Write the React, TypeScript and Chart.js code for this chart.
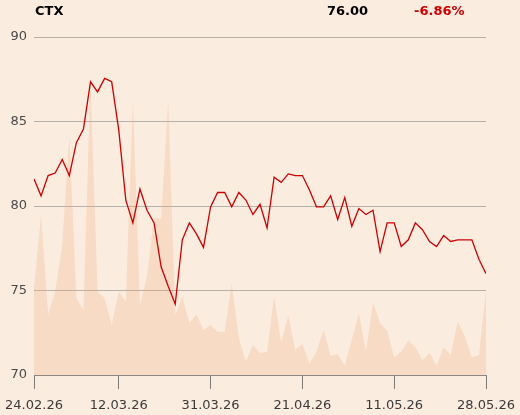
import React, { useEffect, useRef } from "react";
import { Chart, registerables } from "chart.js";

Chart.register(...registerables);

const ticker = "CTX";
const lastPrice = "76.00";
const changePct = "-6.86%";

const dates = [
  "24.02.26", "25.02.26", "26.02.26", "27.02.26", "02.03.26", "03.03.26", "04.03.26", "05.03.26",
  "06.03.26", "09.03.26", "10.03.26", "11.03.26", "12.03.26", "13.03.26", "16.03.26", "17.03.26",
  "18.03.26", "19.03.26", "20.03.26", "23.03.26", "24.03.26", "25.03.26", "26.03.26", "27.03.26",
  "30.03.26", "31.03.26", "01.04.26", "02.04.26", "07.04.26", "08.04.26", "09.04.26", "10.04.26",
  "13.04.26", "14.04.26", "15.04.26", "16.04.26", "17.04.26", "20.04.26", "21.04.26", "22.04.26",
  "23.04.26", "24.04.26", "27.04.26", "28.04.26", "29.04.26", "30.04.26", "04.05.26", "05.05.26",
  "06.05.26", "07.05.26", "08.05.26", "11.05.26", "12.05.26", "13.05.26", "14.05.26", "15.05.26",
  "18.05.26", "19.05.26", "20.05.26", "21.05.26", "22.05.26", "25.05.26", "26.05.26", "27.05.26",
  "28.05.26",
];

const prices = [
  81.6, 80.6, 81.8, 81.95, 82.75, 81.8, 83.75, 84.55, 87.35, 86.75, 87.55, 87.35, 84.5,
  80.35, 79.0, 81.0, 79.75, 79.0, 76.4, 75.25, 74.2, 78.0, 79.0, 78.35, 77.55, 79.95,
  80.8, 80.8, 79.95, 80.8, 80.35, 79.5, 80.1, 78.7, 81.7, 81.4, 81.9, 81.8, 81.8,
  80.95, 79.95, 79.95, 80.6, 79.2, 80.5, 78.8, 79.85, 79.5, 79.75, 77.3, 79.0, 79.0,
  77.6, 78.0, 79.0, 78.6, 77.9, 77.6, 78.25, 77.9, 78.0, 78.0, 78.0, 76.85, 76.0,
];

const volumes = [
  25.7, 47.3, 17.8, 24.6, 38.5, 71.0, 22.7, 19.2, 86.4, 24.6, 22.7, 14.8, 24.6,
  21.7, 81.4, 20.7, 29.3, 46.4, 46.2, 80.9, 17.8, 23.2, 15.3, 18.0, 13.3, 14.8,
  12.8, 12.8, 27.1, 10.9, 3.9, 8.9, 6.5, 6.9, 23.2, 9.6, 17.5, 7.4, 9.2,
  3.3, 6.9, 13.3, 5.6, 6.2, 2.7, 10.4, 18.3, 6.9, 21.4, 15.3, 13.1, 5.2,
  6.9, 10.1, 8.2, 4.4, 6.6, 2.7, 8.2, 5.9, 15.8, 11.5, 5.2, 5.9, 24.9,
];

const tickIndexes = [0, 12, 25, 38, 51, 64];
const yTicks = [70, 75, 80, 85, 90];

const BG = "#fbece0";
const FONT = "DejaVu Sans";

export default function App() {
  const canvasRef = useRef<HTMLCanvasElement | null>(null);

  useEffect(() => {
    const canvas = canvasRef.current;
    if (!canvas) return;
    const chart = new Chart(canvas, {
      type: "line",
      data: {
        datasets: [
          {
            label: "Price",
            data: prices.map((p, i) => ({ x: i, y: p })),
            borderColor: "#cc0000",
            borderWidth: 1.3,
            pointRadius: 0,
            tension: 0,
            fill: false,
            yAxisID: "y",
            order: 0,
          },
          {
            label: "Volume",
            data: volumes.map((v, i) => ({ x: i, y: v })),
            borderWidth: 0,
            borderColor: "rgba(0,0,0,0)",
            backgroundColor: "rgba(235,170,120,0.26)",
            pointRadius: 0,
            tension: 0,
            fill: "origin",
            yAxisID: "vol",
            order: 1,
          },
        ],
      },
      options: {
        animation: false,
        responsive: false,
        maintainAspectRatio: false,
        devicePixelRatio: 1,
        layout: { padding: { left: 0, right: 34, top: 37, bottom: 0 } },
        plugins: {
          legend: { display: false },
          tooltip: { enabled: false },
        },
        scales: {
          x: {
            type: "linear",
            min: 0,
            max: dates.length - 1,
            afterBuildTicks: (scale: any) => {
              scale.ticks = tickIndexes.map((v) => ({ value: v }));
            },
            afterFit: (scale: any) => {
              scale.height = 40;
              scale.paddingLeft = 0;
              scale.paddingRight = 0;
            },
            ticks: {
              autoSkip: false,
              maxRotation: 0,
              minRotation: 0,
              padding: 9,
              color: "#3a3a3a",
              font: { family: FONT, size: 13 },
              callback: (v: any) => dates[v as number] ?? "",
            },
            grid: {
              drawOnChartArea: false,
              drawTicks: true,
              tickLength: 14,
              tickColor: "#7f7a76",
              tickWidth: 1,
            },
            border: { display: true, color: "#8c8782", width: 1 },
          },
          y: {
            type: "linear",
            position: "left",
            min: 70,
            max: 90,
            afterBuildTicks: (scale: any) => {
              scale.ticks = yTicks.map((v) => ({ value: v }));
            },
            afterFit: (scale: any) => {
              scale.width = 34;
            },
            ticks: {
              padding: 7,
              color: "#4a4a4a",
              font: { family: FONT, size: 13 },
            },
            grid: {
              color: "#b7b1ac",
              lineWidth: 1,
              drawTicks: false,
            },
            border: { display: false },
          },
          vol: {
            type: "linear",
            display: false,
            min: 0,
            max: 100,
          },
        },
      },
    });
    return () => chart.destroy();
  }, []);

  const textStyle: React.CSSProperties = {
    position: "absolute",
    top: 4,
    fontFamily: FONT,
    fontWeight: "bold",
    fontSize: 13,
    lineHeight: "13px",
    whiteSpace: "nowrap",
  };

  return (
    <div
      style={{
        position: "fixed",
        left: 0,
        top: 0,
        width: 520,
        height: 415,
        background: BG,
        overflow: "hidden",
      }}
    >
      <canvas ref={canvasRef} width={520} height={415} style={{ position: "absolute", left: 0, top: 0, width: 520, height: 415 }} />
      <span style={{ ...textStyle, left: 35, color: "#000" }}>{ticker}</span>
      <span style={{ ...textStyle, left: 327, color: "#000" }}>{lastPrice}</span>
      <span style={{ ...textStyle, left: 414, color: "#cc0000" }}>{changePct}</span>
    </div>
  );
}
